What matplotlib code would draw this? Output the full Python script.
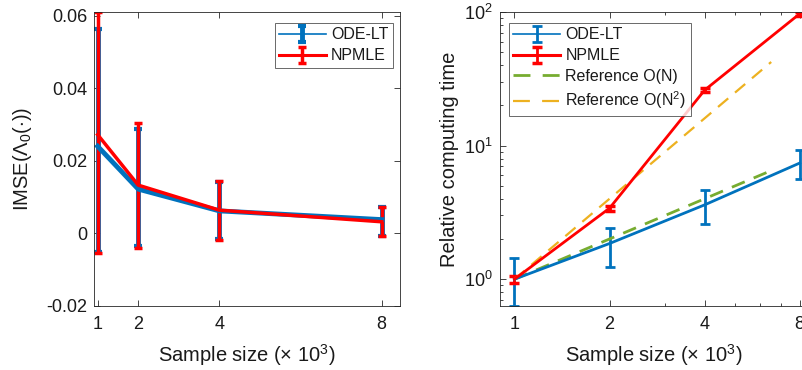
import matplotlib
matplotlib.use("Agg")
import matplotlib.pyplot as plt
from matplotlib.ticker import FixedLocator, NullFormatter, LogLocator
from matplotlib.legend_handler import HandlerErrorbar, HandlerLine2D

plt.rcParams['font.family'] = ['Liberation Sans', 'DejaVu Sans']
plt.rcParams['mathtext.fontset'] = 'custom'
plt.rcParams['mathtext.rm'] = 'Liberation Sans'
plt.rcParams['mathtext.it'] = 'Liberation Sans'
plt.rcParams['mathtext.bf'] = 'Liberation Sans:bold'

# ---------------- data ----------------
sample_sizes = [1, 2, 4, 8]

# left panel: IMSE
imse_ode = [0.0240, 0.0122, 0.0062, 0.0038]
imse_ode_lo = [-0.0050, -0.0035, -0.0016, -0.0006]
imse_ode_hi = [0.0562, 0.0289, 0.0142, 0.0073]
imse_np = [0.0272, 0.0133, 0.0064, 0.0032]
imse_np_lo = [-0.0054, -0.0039, -0.0019, -0.0008]
imse_np_hi = [0.0610, 0.0303, 0.0145, 0.0074]

# right panel: relative computing time
time_ode = [1.0, 1.85, 3.6, 7.4]
time_ode_lo = [0.63, 1.24, 2.6, 5.6]
time_ode_hi = [1.43, 2.43, 4.64, 9.3]
time_np = [1.0, 3.4, 26.0, 97.0]
time_np_lo = [0.94, 3.25, 25.0, 94.0]
time_np_hi = [1.06, 3.55, 27.0, 100.0]

ref_x = [1, 2, 4, 6.5]
ref_on = [1, 2, 4, 6.5]
ref_on2 = [1, 4, 16, 42.25]

xticks = [1, 2, 4, 8]
xticklabels = ['1', '2', '4', '8']
left_yticks = [-0.02, 0, 0.02, 0.04, 0.06]
left_yticklabels = ['-0.02', '0', '0.02', '0.04', '0.06']

BLUE = '#0072BD'
RED = '#FF0000'
GREEN = '#77AC30'
ORANGE = '#EDB120'
AX = '#262626'
TXT = '#1a1a1a'
FS_TICK = 13
FS_LEG = 11.5
FS_LAB = 14.5

W, H = 802, 370
fig = plt.figure(figsize=(W / 100, H / 100), dpi=100)

def box(l, t, r, b):
    return [l / W, 1 - b / H, (r - l) / W, (b - t) / H]

ax1 = fig.add_axes(box(94, 12, 400, 306))
ax2 = fig.add_axes(box(500, 12, 808, 306))

def style(ax):
    for s in ax.spines.values():
        s.set_color(AX)
        s.set_linewidth(0.6)
    ax.tick_params(which='both', direction='in', top=True, right=True,
                   color=AX, labelsize=FS_TICK, labelcolor=TXT, width=0.6)
    ax.tick_params(which='major', length=4)
    ax.tick_params(which='minor', length=2.5)
    ax.tick_params(axis='x', which='major', pad=7)
    ax.tick_params(axis='y', which='major', pad=5)

def yerr(m, lo, hi):
    return [[a - b for a, b in zip(m, lo)], [c - a for a, c in zip(m, hi)]]

def make_handler(data_line, lw):
    def upd(lh, oh):
        lh.update_from(oh)
        if oh is data_line:
            lh.set_linewidth(lw)
    return HandlerErrorbar(update_func=upd)

def dash_handler(d):
    def upd(lh, oh):
        lh.update_from(oh)
        lh.set_dashes(d)
    return HandlerLine2D(update_func=upd)

def add_legend(ax, handles, labels, hmap, loc, anchor):
    leg = ax.legend(handles, labels, handler_map=hmap, loc=loc, fontsize=FS_LEG,
                    frameon=True, fancybox=False, edgecolor=AX, borderpad=0.28,
                    handlelength=2.9, labelspacing=0.36, handletextpad=0.35,
                    borderaxespad=0, bbox_to_anchor=anchor)
    leg.get_frame().set_linewidth(0.6)
    for t in leg.get_texts():
        t.set_color(TXT)
    return leg

# ---- left ----
e1 = ax1.errorbar(sample_sizes, imse_ode, yerr=yerr(imse_ode, imse_ode_lo, imse_ode_hi),
                  color=BLUE, lw=3.5, elinewidth=3.5, capsize=3.2, capthick=3)
e2 = ax1.errorbar(sample_sizes, imse_np, yerr=yerr(imse_np, imse_np_lo, imse_np_hi),
                  color=RED, lw=2.5, elinewidth=2.5, capsize=3.2, capthick=2.5)
ax1.set_xlim(0.91, 8.45)
ax1.set_ylim(-0.02, 0.061)
ax1.set_xticks(xticks)
ax1.set_xticklabels(xticklabels)
ax1.set_yticks(left_yticks)
ax1.set_yticklabels(left_yticklabels)
style(ax1)
ax1.set_xlabel(r'Sample size ($\times$ 10$^3$)', fontsize=FS_LAB, labelpad=7, color=TXT)
ax1.set_ylabel(r'IMSE($\Lambda_0$($\cdot$))', fontsize=FS_LAB, labelpad=9, color=TXT)
add_legend(ax1, [e1, e2], ['ODE-LT', 'NPMLE'],
           {e1: make_handler(e1.lines[0], 1.2), e2: make_handler(e2.lines[0], 2.2)},
           'upper right', (1 - 7 / 306, 1 - 11 / 294))

# ---- right ----
f1 = ax2.errorbar(sample_sizes, time_ode, yerr=yerr(time_ode, time_ode_lo, time_ode_hi),
                  color=BLUE, lw=2, elinewidth=2, capsize=3.5, capthick=2)
f2 = ax2.errorbar(sample_sizes, time_np, yerr=yerr(time_np, time_np_lo, time_np_hi),
                  color=RED, lw=2, elinewidth=2, capsize=3.5, capthick=2.5)
g1, = ax2.plot(ref_x, ref_on, '--', color=GREEN, lw=2, dashes=(5, 3.5))
g2, = ax2.plot(ref_x, ref_on2, '--', color=ORANGE, lw=1.6, dashes=(6, 4))
ax2.set_xscale('log')
ax2.set_yscale('log')
ax2.set_xlim(0.9, 8.5)
ax2.set_ylim(0.63, 100)
ax2.xaxis.set_major_locator(FixedLocator(xticks))
ax2.xaxis.set_minor_locator(FixedLocator([3, 5, 6, 7]))
ax2.xaxis.set_minor_formatter(NullFormatter())
ax2.set_xticklabels(xticklabels)
ax2.yaxis.set_major_locator(FixedLocator([1, 10, 100]))
ax2.yaxis.set_minor_locator(LogLocator(base=10, subs=range(2, 10)))
ax2.yaxis.set_minor_formatter(NullFormatter())
ax2.set_yticklabels([r'10$^0$', r'10$^1$', r'10$^2$'])
style(ax2)
ax2.set_xlabel(r'Sample size ($\times$ 10$^3$)', fontsize=FS_LAB, labelpad=7, color=TXT)
ax2.set_ylabel('Relative computing time', fontsize=FS_LAB, labelpad=4, color=TXT)
add_legend(ax2, [f1, f2, g1, g2],
           ['ODE-LT', 'NPMLE', 'Reference O(N)', r'Reference O(N$^2$)'],
           {f1: make_handler(f1.lines[0], 1.2), f2: make_handler(f2.lines[0], 2.2),
            g1: dash_handler((6.1, 4.4)), g2: dash_handler((7.6, 5.5))},
           'upper left', (9 / 308, 1 - 11 / 294))

fig.savefig('out.png', dpi=100)
